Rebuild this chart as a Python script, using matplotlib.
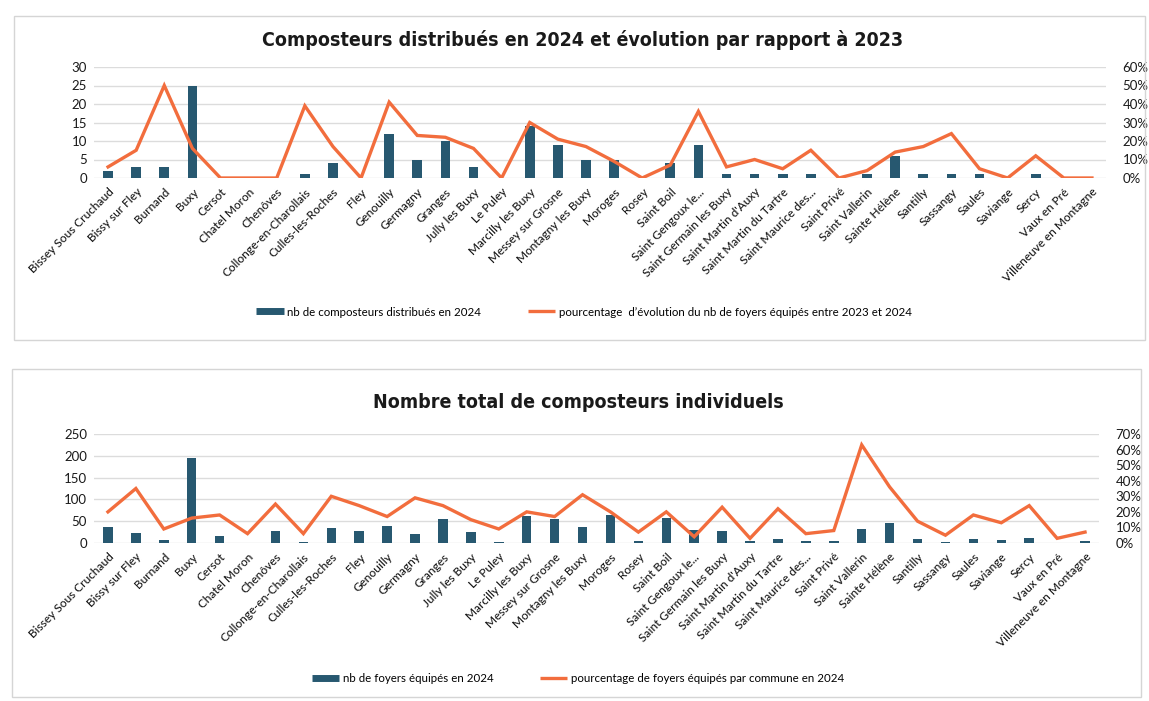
import matplotlib
matplotlib.use('Agg')
import matplotlib.pyplot as plt
from matplotlib.patches import Rectangle
from matplotlib.lines import Line2D
from matplotlib.ticker import FuncFormatter, MultipleLocator
from matplotlib.transforms import ScaledTranslation
import numpy as np

communes = [
    "Bissey Sous Cruchaud", "Bissy sur Fley", "Burnand", "Buxy", "Cersot",
    "Chatel Moron", "Chenôves", "Collonge-en-Charollais", "Culles-les-Roches",
    "Fley", "Genouilly", "Germagny", "Granges", "Jully les Buxy", "Le Puley",
    "Marcilly les Buxy", "Messey sur Grosne", "Montagny les Buxy", "Moroges",
    "Rosey", "Saint Boil", "Saint Gengoux le...", "Saint Germain les Buxy",
    "Saint Martin d'Auxy", "Saint Martin du Tartre", "Saint Maurice des...",
    "Saint Privé", "Saint Vallerin", "Sainte Hélène", "Santilly", "Sassangy",
    "Saules", "Saviange", "Sercy", "Vaux en Pré", "Villeneuve en Montagne",
]

composteurs_2024 = [2, 3, 3, 25, 0, 0, 0, 1, 4, 0, 12, 5, 10, 3, 0, 14, 9, 5,
                    5, 0, 4, 9, 1, 1, 1, 1, 0, 1, 6, 1, 1, 1, 0, 1, 0, 0]
evolution_pct = [6, 15, 50, 16, 0, 0, 0, 39, 17, 0, 41, 23, 22, 16, 0, 30, 21,
                 17, 9, 0, 7, 36, 6, 10, 5, 15, 0, 4, 14, 17, 24, 5, 0, 12, 0, 0]

foyers_2024 = [37, 24, 8, 195, 15, 1, 27, 2, 34, 27, 40, 21, 56, 25, 3, 62, 56,
               37, 65, 5, 57, 30, 27, 5, 10, 5, 4, 33, 47, 10, 2, 10, 6, 12, 1, 5]
pct_foyers = [20, 35, 9, 16, 18, 6, 25, 6, 30, 24, 17, 29, 24, 15, 9, 20, 17,
              31, 20, 7, 20, 4, 23, 3, 22, 6, 8, 63, 36, 14, 5, 18, 13, 24, 3, 7]

title1 = "Composteurs distribués en 2024 et évolution par rapport à 2023"
title2 = "Nombre total de composteurs individuels"
legend1 = ["nb de composteurs distribués en 2024",
           "pourcentage  d’évolution du nb de foyers équipés entre 2023 et 2024"]
legend2 = ["nb de foyers équipés en 2024",
           "pourcentage de foyers équipés par commune en 2024"]

BAR = '#275870'
LINE = '#F26D3D'
GRID = '#DCDCDC'
TXT = '#1A1A1A'
FONT = ['Lato', 'DejaVu Sans']

W, H = 1149, 701
fig = plt.figure(figsize=(W / 100, H / 100), dpi=100)


def fx(px):
    return px / W


def fy(py):
    return 1 - py / H


def panel(left, right, y0, ytop, bars, line, ymax, ystep, pmax):
    ax = fig.add_axes([fx(left), fy(y0), fx(right - left), fy(ytop) - fy(y0)])
    x = np.arange(len(communes))
    ax.bar(x, bars, width=0.34, color=BAR, zorder=2)
    ax.set_xlim(-0.5, len(communes) - 0.5)
    ax.set_ylim(0, ymax)
    ax.yaxis.set_major_locator(MultipleLocator(ystep))
    ax.grid(axis='y', color=GRID, lw=1)
    ax.set_axisbelow(True)
    for s in ax.spines.values():
        s.set_visible(False)
    ax.tick_params(axis='both', length=0, colors=TXT)
    ax.tick_params(axis='y', pad=5, labelsize=9.5)
    ax.set_xticks(x)
    ax.set_xticklabels(communes, rotation=45, ha='right', va='top',
                       rotation_mode='anchor', fontsize=8.6, family=FONT,
                       fontweight='medium')
    shift = ScaledTranslation(-0.06, -0.03, fig.dpi_scale_trans)
    for t in ax.get_xticklabels():
        t.set_transform(t.get_transform() + shift)
    for t in ax.get_yticklabels():
        t.set_family(FONT)
    ax.tick_params(axis='x', pad=6)
    ax2 = ax.twinx()
    ax2.plot(x, line, color=LINE, lw=2.4, zorder=3, solid_joinstyle='miter')
    ax2.set_ylim(0, pmax)
    ax2.yaxis.set_major_locator(MultipleLocator(10))
    ax2.yaxis.set_major_formatter(FuncFormatter(lambda v, p: f"{v:.0f}%"))
    for s in ax2.spines.values():
        s.set_visible(False)
    ax2.tick_params(axis='y', length=0, pad=12, labelsize=9.5, colors=TXT)
    for t in ax2.get_yticklabels():
        t.set_family(FONT)
    return ax, ax2


def legend(cx, cy, labels):
    handles = [Line2D([], [], color=BAR, lw=5, solid_capstyle='butt'),
               Line2D([], [], color=LINE, lw=2.4, solid_capstyle='butt')]
    fig.legend(handles, labels, loc='center', bbox_to_anchor=(fx(cx), fy(cy)),
               ncol=2, frameon=False, handlelength=2.4,
               handletextpad=0.3, columnspacing=4.0,
               prop={'family': FONT, 'size': 8.3})


# panel frames
fig.add_artist(Rectangle((fx(14), fy(340)), fx(1131), fy(16) - fy(340),
                         transform=fig.transFigure, fill=False,
                         edgecolor='#D5D5D5', lw=1))
fig.add_artist(Rectangle((fx(12), fy(697)), fx(1129), fy(369) - fy(697),
                         transform=fig.transFigure, fill=False,
                         edgecolor='#D5D5D5', lw=1))

panel(94, 1106, 178, 67, composteurs_2024, evolution_pct, 30, 5, 60)
panel(94, 1099, 543, 434, foyers_2024, pct_foyers, 250, 50, 70)

fig.text(fx(583), fy(40), title1, ha='center', va='center', fontsize=14,
         fontweight='bold', family='DejaVu Sans', fontstretch='condensed',
         color=TXT)
fig.text(fx(578), fy(403), title2, ha='center', va='center', fontsize=14,
         fontweight='bold', family='DejaVu Sans', fontstretch='condensed',
         color=TXT)

legend(584, 312, legend1)
legend(578, 679, legend2)

fig.savefig('out.png', dpi=100)
